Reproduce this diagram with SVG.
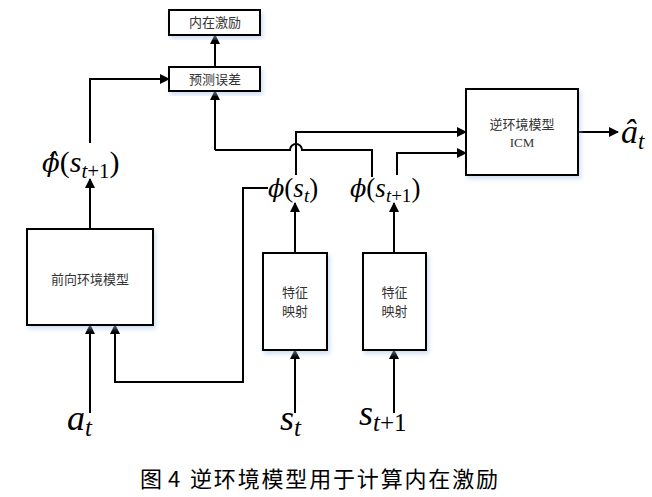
<svg xmlns="http://www.w3.org/2000/svg" width="652" height="497" viewBox="0 0 652 497">
<style>
.box{fill:#fff;stroke:#000;stroke-width:2;filter:url(#sh)}
.cn{font-family:"Noto Sans CJK SC",sans-serif;font-size:13px;fill:#333;text-anchor:middle}
.ln{fill:none;stroke:#000;stroke-width:2}
.m{font-family:"Liberation Serif","DejaVu Serif",serif;font-style:italic;fill:#000}
.p{font-family:"DejaVu Serif",serif;font-weight:normal}
.r{font-style:normal}
</style>
<defs>
<filter id="sh" x="-20%" y="-20%" width="140%" height="140%"><feDropShadow dx="2" dy="3" stdDeviation="2" flood-color="#9fc0e8" flood-opacity="0.5"/></filter>
<marker id="ar" viewBox="0 0 10 10" refX="9" refY="5" markerWidth="5" markerHeight="5" orient="auto" markerUnits="strokeWidth"><path d="M0,0 L10,5 L0,10 z" fill="#000"/></marker>
</defs>
<rect width="652" height="497" fill="#fff"/>
<g id="connectors" class="ln">
<path d="M215,67 V35" marker-end="url(#ar)"/>
<path d="M90,143 V79 H169" marker-end="url(#ar)"/>
<path d="M215,150 V91" marker-end="url(#ar)"/>
<path d="M215,150 H290 A6,6 0 0 1 302,150 H372 V177"/>
<path d="M296,175 V132 H466" marker-end="url(#ar)"/>
<path d="M397,175 V153 H466" marker-end="url(#ar)"/>
<path d="M578,132 H618" marker-end="url(#ar)"/>
<path d="M90,229 V179" marker-end="url(#ar)"/>
<path d="M90,413 V325" marker-end="url(#ar)"/>
<path d="M268,188 H243 V382 H115 V325" marker-end="url(#ar)"/>
<path d="M295,413 V350" marker-end="url(#ar)"/>
<path d="M394,413 V350" marker-end="url(#ar)"/>
<path d="M295,253 V203" marker-end="url(#ar)"/>
<path d="M394,253 V203" marker-end="url(#ar)"/>
</g>
<g id="intrinsic"><rect class="box" x="169" y="10" width="91" height="25"/><text class="cn" x="215" y="27">内在激励</text></g>
<g id="prederr"><rect class="box" x="169" y="67" width="91" height="24"/><text class="cn" x="215" y="84">预测误差</text></g>
<g id="icm"><rect class="box" x="466" y="89" width="112" height="86"/><text class="cn" x="522" y="129">逆环境模型</text><text x="522" y="147" text-anchor="middle" font-family="Liberation Serif,serif" font-size="13" fill="#333">ICM</text></g>
<g id="forward"><rect class="box" x="27" y="229" width="126" height="96"/><text class="cn" x="90" y="284">前向环境模型</text></g>
<g id="feat1"><rect class="box" x="263" y="253" width="64" height="97"/><text class="cn" x="295" y="297">特征</text><text class="cn" x="295" y="316">映射</text></g>
<g id="feat2"><rect class="box" x="363" y="253" width="63" height="97"/><text class="cn" x="394.5" y="297">特征</text><text class="cn" x="394.5" y="316">映射</text></g>
<g id="labels">
<text class="m" x="42" y="172" font-size="30"><tspan class="p" font-size="26">ϕ̂</tspan><tspan class="r">(</tspan>s<tspan font-size="21" dy="6">t</tspan><tspan class="r" font-size="21">+1</tspan><tspan class="r" dy="-6">)</tspan></text>
<text class="m" x="268" y="197" font-size="27"><tspan class="p" font-size="24">ϕ</tspan><tspan class="r">(</tspan>s<tspan font-size="19" dy="5">t</tspan><tspan class="r" dy="-5">)</tspan></text>
<text class="m" x="350" y="197" font-size="27"><tspan class="p" font-size="24">ϕ</tspan><tspan class="r">(</tspan>s<tspan font-size="19" dy="5">t</tspan><tspan class="r" font-size="19">+1</tspan><tspan class="r" dy="-5">)</tspan></text>
<text class="m" x="621" y="143" font-size="34">â<tspan font-size="23" dy="6">t</tspan></text>
<text class="m" x="67" y="430" font-size="36">a<tspan font-size="25" dy="6">t</tspan></text>
<text class="m" x="280" y="430" font-size="36">s<tspan font-size="25" dy="6">t</tspan></text>
<text class="m" x="359" y="425" font-size="36">s<tspan font-size="25" dy="6">t</tspan><tspan class="r" font-size="25">+1</tspan></text>
</g>
<text y="487" font-family="Noto Sans CJK SC,sans-serif" font-size="22" fill="#000"><tspan x="140">图</tspan><tspan x="168">4</tspan><tspan x="190" textLength="308" lengthAdjust="spacing">逆环境模型用于计算内在激励</tspan></text>
</svg>
